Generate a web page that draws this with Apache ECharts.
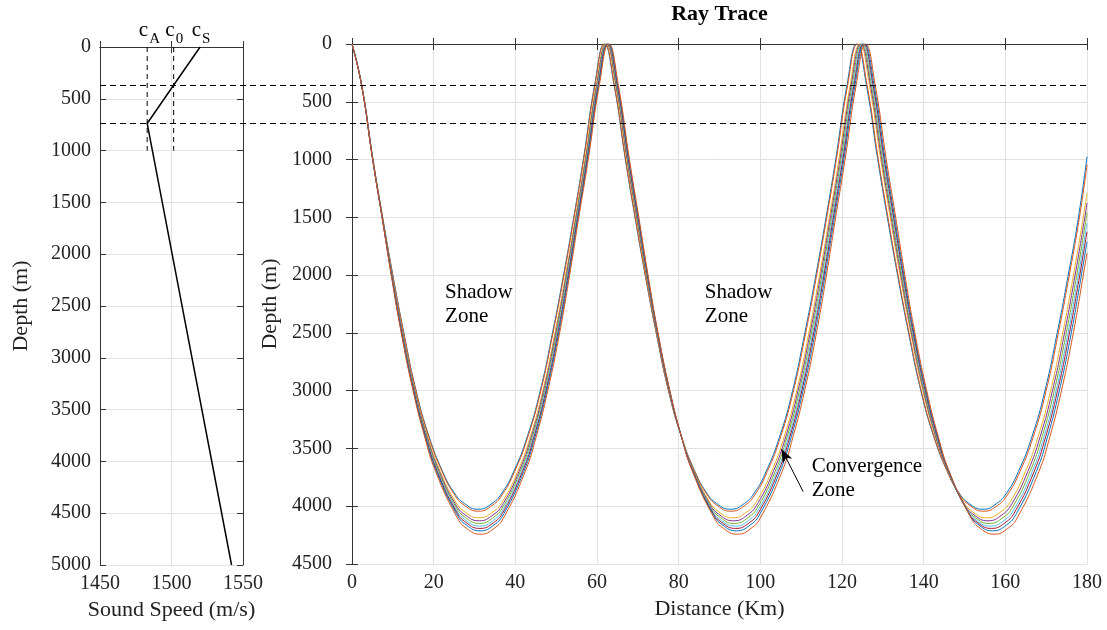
<!DOCTYPE html>
<html>
<head>
<meta charset="utf-8">
<title>Ray Trace</title>
<script src="https://cdn.jsdelivr.net/npm/echarts@6/dist/echarts.min.js"></script>
<style>
  html, body { margin: 0; padding: 0; background: #fff; }
  #chart { width: 1107px; height: 630px; }
</style>
</head>
<body>
<div id="chart"></div>
<script>
// sound speed profile (left panel), speed in m/s, depth in m
const profileSpeed = [1520, 1501.8, 1483, 1542]
const profileDepth = [0, 362, 738, 5000]
// c_A, c_0, c_S reference speeds and their subscripts
const markSpeeds = [1483, 1501.5, 1520]
const markSubs = ['A', '0', 'S']
const markLineDepth = 1000
// layer boundaries drawn as dashed lines across the figure
const layerDepths = [362, 738]

// rays: [distance km, depth m]
const ray1 = [[0, 0], [2.35, 350], [5.15, 1000], [7.5, 1500], [10, 2000], [12.7, 2500], [15.7, 3000], [18.9, 3400], [22.2, 3700], [24.9, 3876], [27.5, 3976], [30.9, 4026],
  [34.3, 3976], [36.9, 3876], [39.6, 3700], [42.9, 3400], [46.1, 3000], [49.1, 2500], [51.8, 2000], [54.3, 1500], [56.65, 1000], [59.45, 350], [61.8, 0],
  [64.15, 350], [66.95, 1000], [69.3, 1500], [71.8, 2000], [74.5, 2500], [77.5, 3000], [80.7, 3400], [84, 3700], [86.7, 3876], [89.3, 3976], [92.7, 4026],
  [96.1, 3976], [98.7, 3876], [101.4, 3700], [104.7, 3400], [107.9, 3000], [110.9, 2500], [113.6, 2000], [116.1, 1500], [118.45, 1000], [121.25, 350], [123.6, 0],
  [125.95, 350], [128.75, 1000], [131.1, 1500], [133.6, 2000], [136.3, 2500], [139.3, 3000], [142.5, 3400], [145.8, 3700], [148.5, 3876], [151.1, 3976], [154.5, 4026],
  [157.9, 3976], [160.5, 3876], [163.2, 3700], [166.5, 3400], [169.7, 3000], [172.7, 2500], [175.4, 2000], [177.9, 1500], [180, 975]]
const ray2 = [[0, 0], [2.35, 350], [5.14, 1000], [7.49, 1500], [9.97, 2000], [12.65, 2500], [15.64, 3000], [18.81, 3400], [22.06, 3700], [24.96, 3893], [27.55, 3993], [30.94, 4043],
  [34.33, 3993], [36.92, 3893], [39.82, 3700], [43.07, 3400], [46.24, 3000], [49.23, 2500], [51.91, 2000], [54.39, 1500], [56.74, 1000], [59.53, 350], [61.88, 0],
  [64.23, 350], [67.02, 1000], [69.37, 1500], [71.85, 2000], [74.53, 2500], [77.52, 3000], [80.69, 3400], [83.94, 3700], [86.84, 3893], [89.43, 3993], [92.82, 4043],
  [96.21, 3993], [98.8, 3893], [101.7, 3700], [104.95, 3400], [108.12, 3000], [111.11, 2500], [113.79, 2000], [116.27, 1500], [118.62, 1000], [121.41, 350], [123.76, 0],
  [126.11, 350], [128.9, 1000], [131.25, 1500], [133.73, 2000], [136.41, 2500], [139.4, 3000], [142.57, 3400], [145.82, 3700], [148.72, 3893], [151.31, 3993], [154.7, 4043],
  [158.09, 3993], [160.68, 3893], [163.58, 3700], [166.83, 3400], [170, 3000], [172.99, 2500], [175.67, 2000], [178.15, 1500], [180, 1045]]
const ray3 = [[0, 0], [2.33, 350], [5.12, 1000], [7.45, 1500], [9.86, 2000], [12.48, 2500], [15.45, 3000], [18.53, 3400], [21.62, 3700], [25.16, 3950], [27.7, 4050], [31.09, 4100],
  [34.48, 4050], [37.02, 3950], [40.56, 3700], [43.65, 3400], [46.73, 3000], [49.7, 2500], [52.32, 2000], [54.73, 1500], [57.06, 1000], [59.85, 350], [62.18, 0],
  [64.51, 350], [67.3, 1000], [69.63, 1500], [72.04, 2000], [74.66, 2500], [77.63, 3000], [80.71, 3400], [83.8, 3700], [87.34, 3950], [89.88, 4050], [93.27, 4100],
  [96.66, 4050], [99.2, 3950], [102.74, 3700], [105.83, 3400], [108.91, 3000], [111.88, 2500], [114.5, 2000], [116.91, 1500], [119.24, 1000], [122.03, 350], [124.36, 0],
  [126.69, 350], [129.48, 1000], [131.81, 1500], [134.22, 2000], [136.84, 2500], [139.81, 3000], [142.89, 3400], [145.98, 3700], [149.52, 3950], [152.06, 4050], [155.45, 4100],
  [158.84, 4050], [161.38, 3950], [164.92, 3700], [168.01, 3400], [171.09, 3000], [174.06, 2500], [176.68, 2000], [179.09, 1500], [180, 1290]]
const ray4 = [[0, 0], [2.33, 350], [5.1, 1000], [7.43, 1500], [9.82, 2000], [12.4, 2500], [15.36, 3000], [18.39, 3400], [21.41, 3700], [25.25, 3976], [27.78, 4076], [31.15, 4126],
  [34.52, 4076], [37.05, 3976], [40.89, 3700], [43.91, 3400], [46.94, 3000], [49.9, 2500], [52.48, 2000], [54.87, 1500], [57.2, 1000], [59.97, 350], [62.3, 0],
  [64.63, 350], [67.4, 1000], [69.73, 1500], [72.12, 2000], [74.7, 2500], [77.66, 3000], [80.69, 3400], [83.71, 3700], [87.55, 3976], [90.08, 4076], [93.45, 4126],
  [96.82, 4076], [99.35, 3976], [103.19, 3700], [106.21, 3400], [109.24, 3000], [112.2, 2500], [114.78, 2000], [117.17, 1500], [119.5, 1000], [122.27, 350], [124.6, 0],
  [126.93, 350], [129.7, 1000], [132.03, 1500], [134.42, 2000], [137, 2500], [139.96, 3000], [142.99, 3400], [146.01, 3700], [149.85, 3976], [152.38, 4076], [155.75, 4126],
  [159.12, 4076], [161.65, 3976], [165.49, 3700], [168.51, 3400], [171.54, 3000], [174.5, 2500], [177.08, 2000], [179.47, 1500], [180, 1375]]
const ray5 = [[0, 0], [2.32, 350], [5.09, 1000], [7.41, 1500], [9.77, 2000], [12.33, 2500], [15.27, 3000], [18.27, 3400], [21.22, 3700], [25.33, 3999], [27.84, 4099], [31.21, 4149],
  [34.58, 4099], [37.09, 3999], [41.2, 3700], [44.15, 3400], [47.15, 3000], [50.09, 2500], [52.65, 2000], [55.01, 1500], [57.33, 1000], [60.1, 350], [62.42, 0],
  [64.74, 350], [67.51, 1000], [69.83, 1500], [72.19, 2000], [74.75, 2500], [77.69, 3000], [80.69, 3400], [83.64, 3700], [87.75, 3999], [90.26, 4099], [93.63, 4149],
  [97, 4099], [99.51, 3999], [103.62, 3700], [106.57, 3400], [109.57, 3000], [112.51, 2500], [115.07, 2000], [117.43, 1500], [119.75, 1000], [122.52, 350], [124.84, 0],
  [127.16, 350], [129.93, 1000], [132.25, 1500], [134.61, 2000], [137.17, 2500], [140.11, 3000], [143.11, 3400], [146.06, 3700], [150.17, 3999], [152.68, 4099], [156.05, 4149],
  [159.42, 4099], [161.93, 3999], [166.04, 3700], [168.99, 3400], [171.99, 3000], [174.93, 2500], [177.49, 2000], [179.85, 1500], [180, 1460]]
const ray6 = [[0, 0], [2.32, 350], [5.08, 1000], [7.4, 1500], [9.73, 2000], [12.26, 2500], [15.19, 3000], [18.15, 3400], [21.03, 3700], [25.41, 4022], [27.91, 4122], [31.27, 4172],
  [34.63, 4122], [37.13, 4022], [41.51, 3700], [44.39, 3400], [47.35, 3000], [50.28, 2500], [52.81, 2000], [55.14, 1500], [57.46, 1000], [60.22, 350], [62.54, 0],
  [64.86, 350], [67.62, 1000], [69.94, 1500], [72.27, 2000], [74.8, 2500], [77.73, 3000], [80.69, 3400], [83.57, 3700], [87.95, 4022], [90.45, 4122], [93.81, 4172],
  [97.17, 4122], [99.67, 4022], [104.05, 3700], [106.93, 3400], [109.89, 3000], [112.82, 2500], [115.35, 2000], [117.68, 1500], [120, 1000], [122.76, 350], [125.08, 0],
  [127.4, 350], [130.16, 1000], [132.48, 1500], [134.81, 2000], [137.34, 2500], [140.27, 3000], [143.23, 3400], [146.11, 3700], [150.49, 4022], [152.99, 4122], [156.35, 4172],
  [159.71, 4122], [162.21, 4022], [166.59, 3700], [169.47, 3400], [172.43, 3000], [175.36, 2500], [177.89, 2000], [180, 1550]]
const ray7 = [[0, 0], [2.31, 350], [5.07, 1000], [7.38, 1500], [9.69, 2000], [12.2, 2500], [15.12, 3000], [18.05, 3400], [20.88, 3700], [25.48, 4042], [27.96, 4142], [31.32, 4192],
  [34.68, 4142], [37.16, 4042], [41.76, 3700], [44.59, 3400], [47.52, 3000], [50.44, 2500], [52.95, 2000], [55.26, 1500], [57.57, 1000], [60.33, 350], [62.64, 0],
  [64.95, 350], [67.71, 1000], [70.02, 1500], [72.33, 2000], [74.84, 2500], [77.76, 3000], [80.69, 3400], [83.52, 3700], [88.12, 4042], [90.6, 4142], [93.96, 4192],
  [97.32, 4142], [99.8, 4042], [104.4, 3700], [107.23, 3400], [110.16, 3000], [113.08, 2500], [115.59, 2000], [117.9, 1500], [120.21, 1000], [122.97, 350], [125.28, 0],
  [127.59, 350], [130.35, 1000], [132.66, 1500], [134.97, 2000], [137.48, 2500], [140.4, 3000], [143.33, 3400], [146.16, 3700], [150.76, 4042], [153.24, 4142], [156.6, 4192],
  [159.96, 4142], [162.44, 4042], [167.04, 3700], [169.87, 3400], [172.8, 3000], [175.72, 2500], [178.23, 2000], [180, 1625]]
const ray8 = [[0, 0], [2.31, 350], [5.06, 1000], [7.37, 1500], [9.65, 2000], [12.13, 2500], [15.05, 3000], [17.94, 3400], [20.7, 3700], [25.55, 4063], [28.02, 4163], [31.38, 4213],
  [34.74, 4163], [37.21, 4063], [42.06, 3700], [44.82, 3400], [47.71, 3000], [50.63, 2500], [53.11, 2000], [55.39, 1500], [57.7, 1000], [60.45, 350], [62.76, 0],
  [65.07, 350], [67.82, 1000], [70.13, 1500], [72.41, 2000], [74.89, 2500], [77.81, 3000], [80.7, 3400], [83.46, 3700], [88.31, 4063], [90.78, 4163], [94.14, 4213],
  [97.5, 4163], [99.97, 4063], [104.82, 3700], [107.58, 3400], [110.47, 3000], [113.39, 2500], [115.87, 2000], [118.15, 1500], [120.46, 1000], [123.21, 350], [125.52, 0],
  [127.83, 350], [130.58, 1000], [132.89, 1500], [135.17, 2000], [137.65, 2500], [140.57, 3000], [143.46, 3400], [146.22, 3700], [151.07, 4063], [153.54, 4163], [156.9, 4213],
  [160.26, 4163], [162.73, 4063], [167.58, 3700], [170.34, 3400], [173.23, 3000], [176.15, 2500], [178.63, 2000], [180, 1710]]
const ray9 = [[0, 0], [2.3, 350], [5.05, 1000], [7.35, 1500], [9.6, 2000], [12.05, 2500], [14.95, 3000], [17.8, 3400], [20.48, 3700], [25.65, 4092], [28.1, 4192], [31.45, 4242],
  [34.8, 4192], [37.25, 4092], [42.42, 3700], [45.1, 3400], [47.95, 3000], [50.85, 2500], [53.3, 2000], [55.55, 1500], [57.85, 1000], [60.6, 350], [62.9, 0],
  [65.2, 350], [67.95, 1000], [70.25, 1500], [72.5, 2000], [74.95, 2500], [77.85, 3000], [80.7, 3400], [83.38, 3700], [88.55, 4092], [91, 4192], [94.35, 4242],
  [97.7, 4192], [100.15, 4092], [105.32, 3700], [108, 3400], [110.85, 3000], [113.75, 2500], [116.2, 2000], [118.45, 1500], [120.75, 1000], [123.5, 350], [125.8, 0],
  [128.1, 350], [130.85, 1000], [133.15, 1500], [135.4, 2000], [137.85, 2500], [140.75, 3000], [143.6, 3400], [146.28, 3700], [151.45, 4092], [153.9, 4192], [157.25, 4242],
  [160.6, 4192], [163.05, 4092], [168.22, 3700], [170.9, 3400], [173.75, 3000], [176.65, 2500], [179.1, 2000], [180, 1810]]
const rays = [ray1, ray2, ray3, ray4, ray5, ray6, ray7, ray8, ray9]
// matlab default line colours, cycling
const rayColors = ['#0072BD', '#D95319', '#EDB120', '#7E2F8E', '#77AC30', '#4DBEEE', '#A2142F', '#0072BD', '#D95319']

// annotations (data coordinates of the right panel)
const zoneLabels = [
  { text: 'Shadow\nZone', at: [22.8, 2250] },
  { text: 'Shadow\nZone', at: [86.4, 2250] },
  { text: 'Convergence\nZone', at: [112.6, 3760] }
]
const arrowFrom = [110.5, 3874]
const arrowTo = [105.2, 3507]

const font = 'Liberation Serif'
const ink = '#222'
const gridGray = '#e2e2e2'

function mainAxis (pos, grid, min, max, step, name, gap, inverse, margin) {
  return {
    type: 'value',
    gridIndex: grid,
    position: pos,
    min: min,
    max: max,
    interval: step,
    inverse: !!inverse,
    name: name,
    nameLocation: 'middle',
    nameGap: gap,
    nameTextStyle: { fontFamily: font, fontSize: 22, color: ink },
    axisLine: { show: true, lineStyle: { color: '#333', width: 1 } },
    axisTick: { show: true, inside: true, length: 6, lineStyle: { color: '#333' } },
    axisLabel: {
      show: true, margin: margin || 9, fontFamily: font, fontSize: 20, color: ink,
      formatter: v => String(v)
    },
    splitLine: { show: true, lineStyle: { color: gridGray, width: 1 } }
  }
}
function mirrorAxis (pos, grid, min, max, step, inverse) {
  return {
    type: 'value',
    gridIndex: grid,
    position: pos,
    min: min,
    max: max,
    interval: step,
    inverse: !!inverse,
    axisLine: { show: true, lineStyle: { color: '#333', width: 1 } },
    axisTick: { show: true, inside: true, length: 6, lineStyle: { color: '#333' } },
    axisLabel: { show: false },
    splitLine: { show: false }
  }
}

const series = []
// sound speed profile
series.push({
  type: 'line',
  xAxisIndex: 0,
  yAxisIndex: 0,
  data: profileSpeed.map((s, i) => [s, profileDepth[i]]),
  symbol: 'none',
  lineStyle: { color: '#000', width: 1.5 },
  z: 5
})
// c_A and c_0 dashed verticals
markSpeeds.slice(0, 2).forEach(s => {
  series.push({
    type: 'line',
    xAxisIndex: 0,
    yAxisIndex: 0,
    data: [[s, 0], [s, markLineDepth]],
    symbol: 'none',
    lineStyle: { color: '#000', width: 1, type: [5, 4] },
    z: 4
  })
})
// rays
rays.forEach((r, i) => {
  series.push({
    type: 'line',
    xAxisIndex: 2,
    yAxisIndex: 2,
    data: r,
    symbol: 'none',
    smooth: 0.5,
    lineStyle: { color: rayColors[i], width: 1 },
    z: 3 + i * 0.01
  })
})
// arrow pointing at the convergence zone
series.push({
  type: 'line',
  xAxisIndex: 2,
  yAxisIndex: 2,
  data: [],
  markLine: {
    silent: true,
    animation: false,
    label: { show: false },
    lineStyle: { color: '#000', width: 1, type: 'solid' },
    data: [[
      { coord: arrowFrom, symbol: 'none' },
      { coord: arrowTo, symbol: 'arrow', symbolSize: [8, 13] }
    ]]
  },
  z: 8
})

const option = {
  animation: false,
  backgroundColor: '#fff',
  grid: [
    { left: 100, top: 47, width: 143, height: 518 },
    { left: 352, top: 44, width: 735, height: 520 }
  ],
  xAxis: [
    mainAxis('bottom', 0, 1450, 1550, 50, 'Sound Speed (m/s)', 34),
    mirrorAxis('top', 0, 1450, 1550, 50),
    mainAxis('bottom', 1, 0, 180, 20, 'Distance (Km)', 34),
    mirrorAxis('top', 1, 0, 180, 20)
  ],
  yAxis: [
    mainAxis('left', 0, 0, 5000, 500, 'Depth (m)', 68, true),
    mirrorAxis('right', 0, 0, 5000, 500, true),
    mainAxis('left', 1, 0, 4500, 500, 'Depth (m)', 66, true, 20),
    mirrorAxis('right', 1, 0, 4500, 500, true)
  ],
  series: series
}

const chart = echarts.init(document.getElementById('chart'))
chart.setOption(option)

// figure-level annotations placed through the axes' scales
const toPx = (g, v) => chart.convertToPixel({ gridIndex: g }, v)
const leftEdge = toPx(0, [1450, 0])[0]
const rightEdge = toPx(1, [180, 0])[0]
const graphics = []
layerDepths.forEach(d => {
  const y = Math.round(toPx(0, [1450, d])[1]) + 0.5
  graphics.push({
    type: 'line',
    shape: { x1: leftEdge, y1: y, x2: rightEdge, y2: y },
    style: { stroke: '#000', lineWidth: 1, lineDash: [6, 4] },
    z: 20
  })
})
markSpeeds.forEach((s, i) => {
  const x = toPx(0, [s, 0])[0]
  graphics.push({
    type: 'text', x: x + 1, y: 30,
    style: { text: 'c', textAlign: 'right', textVerticalAlign: 'middle', verticalAlign: 'middle', font: '21px "' + font + '"', fill: '#000' },
    z: 20
  })
  graphics.push({
    type: 'text', x: x + 2, y: 39,
    style: { text: markSubs[i], textAlign: 'left', textVerticalAlign: 'middle', verticalAlign: 'middle', font: '15px "' + font + '"', fill: '#000' },
    z: 20
  })
})
zoneLabels.forEach(z => {
  const p = toPx(1, z.at)
  graphics.push({
    type: 'text', x: p[0], y: p[1],
    style: { text: z.text, textAlign: 'left', textVerticalAlign: 'middle', verticalAlign: 'middle', font: '21px "' + font + '"', lineHeight: 24, fill: '#000' },
    z: 20
  })
})
graphics.push({
  type: 'text',
  x: toPx(1, [90, 0])[0],
  y: 14,
  style: { text: 'Ray Trace', textAlign: 'center', textVerticalAlign: 'middle', verticalAlign: 'middle', font: 'bold 22px "' + font + '"', fill: '#000' },
  z: 20
})
chart.setOption({ graphic: graphics })
</script>
</body>
</html>
